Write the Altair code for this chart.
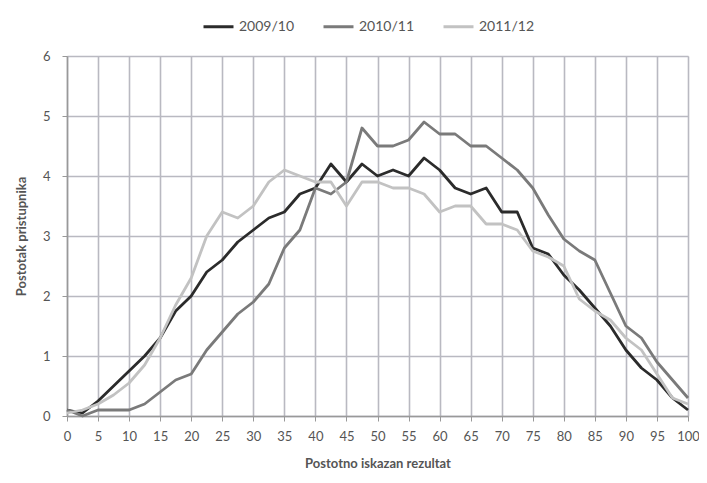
import altair as alt
import pandas as pd

x_vals = [i * 2.5 for i in range(41)]
series_names = ["2009/10", "2010/11", "2011/12"]
s2009 = [0.1, 0.05, 0.25, 0.5, 0.75, 1.0, 1.3, 1.75, 2.0, 2.4, 2.6, 2.9, 3.1, 3.3, 3.4, 3.7, 3.8,
         4.2, 3.9, 4.2, 4.0, 4.1, 4.0, 4.3, 4.1, 3.8, 3.7, 3.8, 3.4, 3.4, 2.8, 2.7, 2.35, 2.1,
         1.8, 1.5, 1.1, 0.8, 0.6, 0.3, 0.1]
s2010 = [0.1, 0.0, 0.1, 0.1, 0.1, 0.2, 0.4, 0.6, 0.7, 1.1, 1.4, 1.7, 1.9, 2.2, 2.8, 3.1, 3.8,
         3.7, 3.9, 4.8, 4.5, 4.5, 4.6, 4.9, 4.7, 4.7, 4.5, 4.5, 4.3, 4.1, 3.8, 3.35, 2.95, 2.75,
         2.6, 2.05, 1.5, 1.3, 0.9, 0.6, 0.3]
s2011 = [0.05, 0.1, 0.2, 0.35, 0.55, 0.85, 1.3, 1.85, 2.3, 3.0, 3.4, 3.3, 3.5, 3.9, 4.1, 4.0, 3.9,
         3.9, 3.5, 3.9, 3.9, 3.8, 3.8, 3.7, 3.4, 3.5, 3.5, 3.2, 3.2, 3.1, 2.75, 2.65, 2.5, 1.95,
         1.75, 1.6, 1.3, 1.1, 0.7, 0.3, 0.2]
x_ticks = list(range(0, 101, 5))
y_ticks = [0, 1, 2, 3, 4, 5, 6]
colors = ["#2b2b2b", "#7a7a7a", "#c2c2c2"]

rows = []
for name, vals in zip(series_names, [s2009, s2010, s2011]):
    for xv, yv in zip(x_vals, vals):
        rows.append({"x": xv, "y": yv, "series": name})
df = pd.DataFrame(rows)

FONT = "Lato"
TXT = "#555555"
GRID = "#b9b9c1"

chart = alt.Chart(df).mark_line(strokeWidth=2.8, strokeJoin="round").encode(
    x=alt.X("x:Q", scale=alt.Scale(domain=[0, 100], nice=False),
            axis=alt.Axis(title="Postotno iskazan rezultat", values=x_ticks, grid=True,
                          gridColor=GRID, gridWidth=1.6, domainColor="#999999", domainWidth=1.5,
                          tickColor="#999999", tickSize=5, labelPadding=9, labelFontSize=13,
                          labelColor=TXT, labelFont=FONT, titleFont=FONT, titleFontSize=13,
                          titleFontWeight="bold", titleColor=TXT, titlePadding=14,
                          labelFlush=False)),
    y=alt.Y("y:Q", scale=alt.Scale(domain=[0, 6], nice=False),
            axis=alt.Axis(title="Postotak pristupnika", values=y_ticks, grid=True,
                          gridColor=GRID, gridWidth=1.6, domainColor="#999999", domainWidth=1.5,
                          tickColor="#999999", tickSize=5, labelPadding=12, labelFontSize=13,
                          labelColor=TXT, labelFont=FONT, titleFont=FONT, titleFontSize=13,
                          titleFontWeight="bold", titleColor=TXT, titlePadding=14)),
    color=alt.Color("series:N", scale=alt.Scale(domain=series_names, range=colors),
                    legend=alt.Legend(title=None, orient="none", direction="horizontal",
                                      legendX=135, legendY=-46, symbolType="stroke",
                                      symbolSize=900, symbolStrokeWidth=3, labelFontSize=14,
                                      labelColor=TXT, labelFont=FONT, columnPadding=22,
                                      labelOffset=4)),
    order=alt.Order("series:N", sort="descending"),
).properties(
    width=621, height=360,
    autosize=alt.AutoSizeParams(type="none"),
    padding={"left": 59, "top": 48, "right": 11, "bottom": 58},
).configure_view(stroke=None).configure(background="white")

chart.save("out.html", embed_options={"renderer": "svg", "actions": False})
